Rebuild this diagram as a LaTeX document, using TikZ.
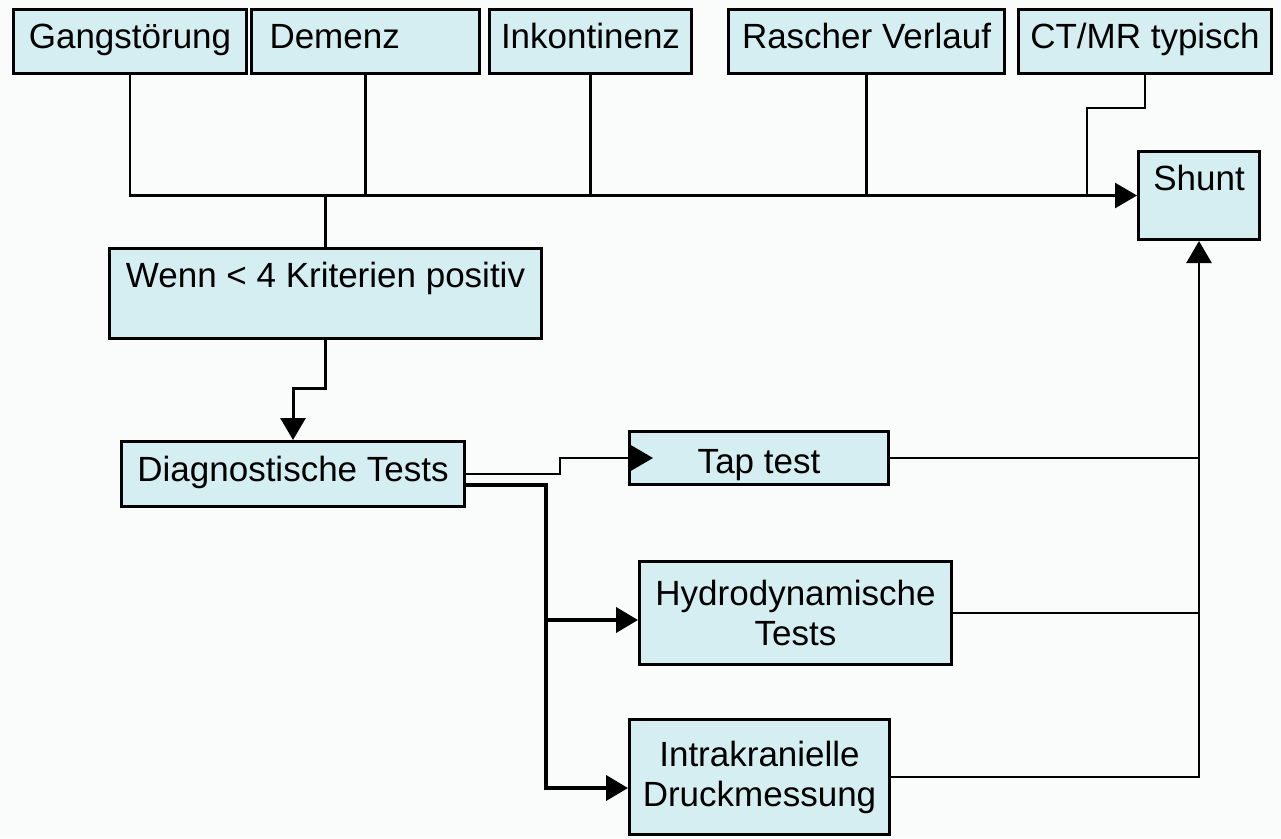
\documentclass[tikz,border=0pt]{standalone}
\usepackage{fontspec}
\setmainfont{Liberation Sans}
\usetikzlibrary{arrows.meta}
\definecolor{boxfill}{RGB}{212,238,241}
\definecolor{bgcol}{RGB}{250,252,252}
\begin{document}
\begin{tikzpicture}[x=1pt,y=-1pt,
  box/.style={draw=black, line width=3pt, fill=boxfill, inner sep=0pt,
              font=\fontsize{35}{40}\selectfont, anchor=north west},
  topbox/.style={box, text height=39, text depth=25},
  conn/.style={line width=2.6pt},
  midconn/.style={line width=3pt},
  thickconn/.style={line width=4pt},
  tip/.style={-{Triangle[length=22pt,width=25pt]}}
]
\useasboundingbox (0,0) rectangle (1281,838);
\fill[bgcol] (0,0) rectangle (1281,838);

% top criteria
\node[topbox, minimum width=233] (gang) at (12,8) {Gangstörung};
\node[topbox, text width=192, inner xsep=18, align=left] (dem) at (250,8) {Demenz};
\node[topbox, minimum width=202] (ink) at (488,8) {Inkontinenz};
\node[topbox, minimum width=276] (ras) at (727,8) {Rascher Verlauf};
\node[topbox, minimum width=253] (ct) at (1017,8) {CT/MR typisch};

% other boxes
\node[box, minimum width=121, text height=39, text depth=49] (shunt) at (1137,150) {Shunt};
\node[box, minimum width=432, text height=39, text depth=51] (wenn) at (108,247) {Wenn < 4 Kriterien positiv};
\node[box, minimum width=343, text height=40, text depth=25] (diag) at (120,440) {Diagnostische Tests};
\node[box, minimum width=259, text height=42, text depth=11] (tap) at (628,430) {Tap test};
\node[box, minimum width=312, minimum height=103, align=center] (hyd) at (638,560) {Hydrodynamische\\Tests};
\node[box, minimum width=260, minimum height=115, align=center] (intr) at (628,718) {Intrakranielle\\Druckmessung};

% bus to shunt
\draw[conn, tip] (gang.south) |- (shunt.west);
\draw[conn] (dem.south) -- (dem.south |- shunt.west);
\draw[conn] (ink.south) -- (ink.south |- shunt.west);
\draw[conn] (ras.south) -- (ras.south |- shunt.west);
\coordinate (ctj) at (1087,108);
\draw[conn] (ct.south) |- (ctj) -- (ctj |- shunt.west);

% to Wenn and Diagnostische Tests
\draw[midconn] (wenn.north) -- (wenn.north |- shunt.west);
\coordinate (wd) at (300,388);
\draw[midconn, tip] (wenn.south) |- (wd) -| (diag.north);

% Diagnostische Tests -> tests
\draw[conn, tip, shorten >=-25pt] (diag.east) -- ++(94,0) |- (tap.west);
\coordinate (vh) at (546,620);
\coordinate (vi) at (546,788);
\draw[thickconn, line cap=rect] ([yshift=-11pt]diag.east) -| (vi);
\draw[thickconn, tip] (vh) -- (vh -| hyd.west);
\draw[thickconn, tip] (vi) -- (vi -| intr.west);

% tests -> Shunt
\draw[conn] (tap.east) -- (tap.east -| shunt.south);
\draw[conn] (hyd.east) -- (hyd.east -| shunt.south);
\draw[conn, tip] (intr.east) -| (shunt.south);
\end{tikzpicture}
\end{document}
